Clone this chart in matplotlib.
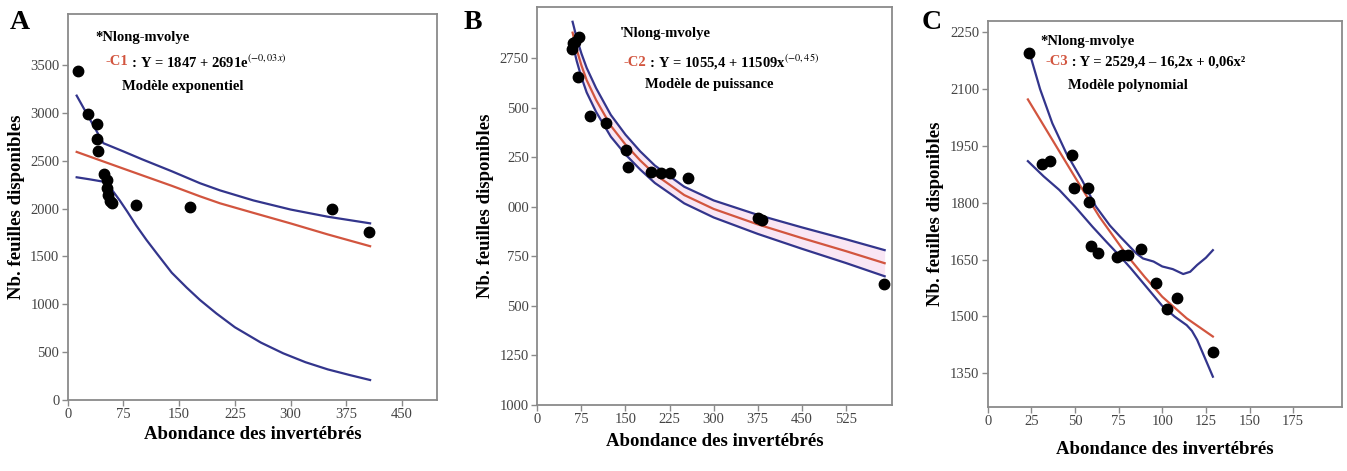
import numpy as np
import matplotlib
matplotlib.use("Agg")
import matplotlib.pyplot as plt

plt.rcParams['font.family'] = ['Liberation Serif', 'DejaVu Serif']
plt.rcParams['mathtext.fontset'] = 'stix'

# ---- Panel A : modele exponentiel ----
pts_a_x = [13.5, 27.8, 39, 40, 41, 49, 52.5, 52.5, 54, 57, 60, 92, 164, 356, 406]
pts_a_y = [3441, 2990, 2887, 2730, 2604, 2358, 2299, 2220, 2142, 2080, 2055, 2038, 2013, 1996, 1752]
fit_a_x = [12, 30, 48, 75, 100, 140, 178, 205, 250, 300, 350, 407]
red_a = [2592, 2542, 2492, 2417, 2348, 2238, 2128, 2055, 1955, 1845, 1730, 1607]
up_a = [3180, 2930, 2683, 2597, 2515, 2390, 2265, 2190, 2085, 1990, 1915, 1846]
low_a_x = [12, 30, 48, 55, 61, 70, 80, 92, 106, 120, 140, 160, 178, 200, 225, 260, 290, 320, 350, 380, 407]
low_a = [2327, 2305, 2281, 2245, 2180, 2085, 1970, 1825, 1672, 1530, 1330, 1175, 1045, 905, 760, 600, 488, 395, 320, 260, 209]
xticks_a = [0, 75, 150, 225, 300, 375, 450]
yticks_a = [0, 500, 1000, 1500, 2000, 2500, 3000, 3500]

# ---- Panel B : modele de puissance ----
pts_b_x = [58.5, 60.2, 64.1, 71.4, 69.8, 89.6, 116.3, 150.3, 154.8, 193.4, 209.8, 225.7, 255.7, 375.9, 381.6, 590.2]
pts_b_y = [2796, 2826, 2835, 2857, 2658, 2460, 2423, 2288, 2204, 2175, 2170, 2173, 2145, 1943, 1934, 1611]
fit_b_x = [60, 67, 75, 84, 100, 125, 150, 175, 200, 250, 300, 375, 450, 525, 591]
red_b = [2880, 2795, 2715, 2640, 2540, 2410, 2315, 2235, 2165, 2060, 1990, 1912, 1843, 1777, 1716]
up_b = [2935, 2853, 2775, 2702, 2600, 2465, 2365, 2281, 2209, 2102, 2033, 1960, 1897, 1837, 1782]
low_b = [2825, 2737, 2655, 2578, 2480, 2355, 2265, 2189, 2121, 2018, 1947, 1864, 1789, 1717, 1650]
xticks_b = [0, 75, 150, 225, 300, 375, 450, 525]
yticks_b = [1000, 1250, 1500, 1750, 2000, 2250, 2500, 2750]
ylabels_b = ['1000', '1250', '500', '750', '000', '250', '500', '2750']

# ---- Panel C : modele polynomial ----
pts_c_x = [23.7, 30.9, 35.7, 48.1, 49.6, 57.3, 58.2, 59.2, 63.0, 74.2, 77.1, 80.5, 87.8, 96.4, 102.5, 108.2, 129.2]
pts_c_y = [2195, 1902, 1910, 1926, 1838, 1840, 1801, 1686, 1667, 1658, 1662, 1661, 1677, 1589, 1519, 1550, 1405]
red_c_x = [23, 36, 51, 64, 80, 90, 100, 114, 129]
red_c = [2073, 1974, 1860, 1763, 1660, 1604, 1552, 1495, 1447]
up_c_x = [24, 30, 37, 45, 54, 62, 70, 76, 85, 89, 95, 100, 106, 112, 116, 120, 125, 129]
up_c = [2195, 2100, 2010, 1931, 1860, 1790, 1740, 1710, 1667, 1653, 1645, 1632, 1625, 1612, 1618, 1636, 1655, 1675]
low_c_x = [23, 32, 41, 50, 60, 68, 76, 82, 90, 100, 107, 114, 117, 120, 124, 129]
low_c = [1910, 1870, 1834, 1790, 1737, 1697, 1658, 1627, 1583, 1528, 1500, 1477, 1462, 1438, 1395, 1341]
xticks_c = [0, 25, 50, 75, 100, 125, 150, 175]
yticks_c = [1350, 1500, 1650, 1800, 1950, 2100, 2250]

BLUE = '#33358c'
RED = '#d2553f'
GRAY = '#8a8a8a'

fig = plt.figure(figsize=(13.47, 4.71), dpi=100)
axA = fig.add_axes([0.0503, 0.1507, 0.2741, 0.8196])
axB = fig.add_axes([0.3989, 0.1401, 0.2631, 0.8444])
axC = fig.add_axes([0.7333, 0.1359, 0.2630, 0.8195])


def style(ax, xt, yt, xlim, ylim, xpad):
    ax.set_xlim(*xlim)
    ax.set_ylim(*ylim)
    ax.set_xticks(xt)
    ax.set_yticks(yt)
    for s in ax.spines.values():
        s.set_color(GRAY)
        s.set_linewidth(1.3)
    ax.tick_params(direction='out', length=4, width=1, color=GRAY,
                   labelsize=10.5, labelcolor='#444444', pad=2)
    ax.set_xlabel('Abondance des invertébrés', fontsize=13.5, fontweight='bold',
                  labelpad=xpad)
    ax.set_ylabel('Nb. feuilles disponibles', fontsize=13.5, fontweight='bold',
                  labelpad=4)


def notes(ax, pos, tag, eq, model, star='*'):
    x0, y1, x1, y2, x2, y3 = pos
    kw = dict(transform=ax.transAxes, fontsize=10.5, fontweight='bold',
              va='center', ha='left')
    ax.text(x0, y1, star + 'Nlong-mvolye', **kw)
    t = ax.text(x1, y2, tag, color=RED, **kw)
    ax.annotate(eq, xy=(1, 0.5), xycoords=t, va='center', ha='left',
                fontsize=10.5, fontweight='bold')
    ax.text(x2, y3, model, **kw)


# A
axA.plot(fit_a_x, up_a, color=BLUE, lw=1.6)
axA.plot(low_a_x, low_a, color=BLUE, lw=1.6)
axA.plot(fit_a_x, red_a, color=RED, lw=1.6)
axA.plot(pts_a_x, pts_a_y, 'o', color='black', ms=7.5)
style(axA, xticks_a, yticks_a, (0, 497), (0, 4033), 3)
notes(axA, (0.074, 0.94, 0.101, 0.876, 0.147, 0.811), '-C1',
      ' : Y = 1847 + 2691e$^{(-0,03x)}$', 'Modèle exponentiel')

# B
axB.fill_between(fit_b_x, low_b, up_b, color='#f0b8e0', alpha=0.35, lw=0)
axB.plot(fit_b_x, up_b, color=BLUE, lw=1.6)
axB.plot(fit_b_x, low_b, color=BLUE, lw=1.6)
axB.plot(fit_b_x, red_b, color=RED, lw=1.6)
axB.plot(pts_b_x, pts_b_y, 'o', color='black', ms=7.5)
style(axB, xticks_b, yticks_b, (0, 603), (1000, 3008), 5)
axB.set_yticklabels(ylabels_b)
notes(axB, (0.233, 0.935, 0.242, 0.862, 0.304, 0.805), '-C2',
      ' : Y = 1055,4 + 11509x$^{(-0,45)}$', 'Modèle de puissance', star="'")

# C
axC.plot(up_c_x, up_c, color=BLUE, lw=1.6)
axC.plot(low_c_x, low_c, color=BLUE, lw=1.6)
axC.plot(red_c_x, red_c, color=RED, lw=1.6)
axC.plot(pts_c_x, pts_c_y, 'o', color='black', ms=7.5)
style(axC, xticks_c, yticks_c, (0, 203), (1261, 2280), 9)
notes(axC, (0.148, 0.946, 0.162, 0.894, 0.227, 0.834), '-C3',
      ' : Y = 2529,4 – 16,2x + 0,06x²', 'Modèle polynomial')

# panel letters
for x, lab in [(0.015, 'A'), (0.351, 'B'), (0.692, 'C')]:
    fig.text(x, 0.953, lab, fontsize=20, fontweight='bold', va='center', ha='center')

fig.savefig('out.png', dpi=100)
